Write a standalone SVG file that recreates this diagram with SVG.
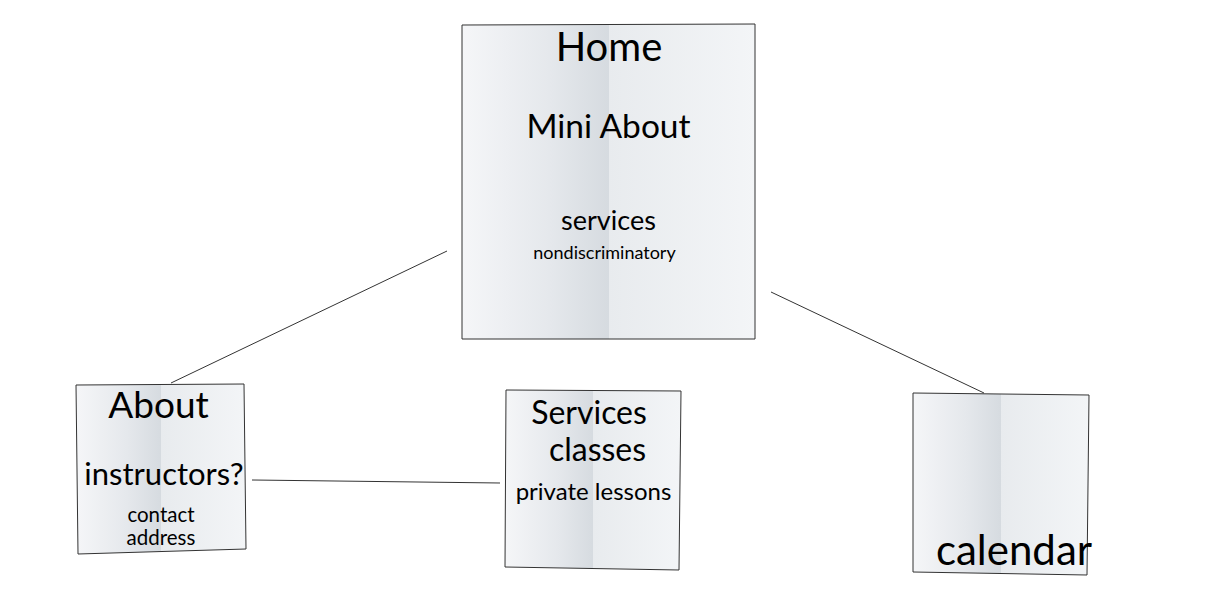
<svg xmlns="http://www.w3.org/2000/svg" width="1210" height="597" viewBox="0 0 1210 597">
<defs>
<linearGradient id="paper" x1="0" y1="0" x2="1" y2="0">
<stop offset="0" stop-color="#f5f6f8"/>
<stop offset="0.3" stop-color="#e5e8ec"/>
<stop offset="0.5" stop-color="#d6dbe0"/>
<stop offset="0.5" stop-color="#e8ebee"/>
<stop offset="1" stop-color="#f3f5f7"/>
</linearGradient>
</defs>
<style>
.box{fill:url(#paper);stroke:#333;stroke-width:1}
.t{font-family:Lato,"Open Sans","Liberation Sans",sans-serif;fill:#000;text-anchor:middle}
.c{stroke:#333;stroke-width:1;fill:none}
</style>
<rect width="1210" height="597" fill="#fff"/>
<g id="connectors">
<line class="c" x1="447" y1="251" x2="171" y2="383"/>
<line class="c" x1="771" y1="292" x2="984" y2="393"/>
<line class="c" x1="252" y1="480" x2="500" y2="483"/>
</g>
<g id="home">
<polygon class="box" points="462,25 755,24 755,339 462,339"/>
<text class="t" x="609" y="61" font-size="40">Home</text>
<text class="t" x="608.5" y="138" font-size="33.5">Mini About</text>
<text class="t" x="608.5" y="230" font-size="27">services</text>
<text class="t" x="604.5" y="259" font-size="18">nondiscriminatory</text>
</g>
<g id="about">
<polygon class="box" points="76,385 244,384 246,549 78,554"/>
<text class="t" x="158.5" y="418" font-size="37">About</text>
<text class="t" x="164" y="485" font-size="31">instructors?</text>
<text class="t" x="161" y="522" font-size="20.5">contact</text>
<text class="t" x="161" y="545" font-size="20.5">address</text>
</g>
<g id="services">
<polygon class="box" points="506,390 681,391 679,570 505,567"/>
<text class="t" x="589" y="424" font-size="32">Services</text>
<text class="t" x="597.5" y="461" font-size="32">classes</text>
<text class="t" x="593.5" y="500" font-size="24">private lessons</text>
</g>
<g id="calendar">
<polygon class="box" points="913,393 1089,395 1087,575 913,572"/>
<text class="t" x="1014" y="565" font-size="42">calendar</text>
</g>
</svg>
